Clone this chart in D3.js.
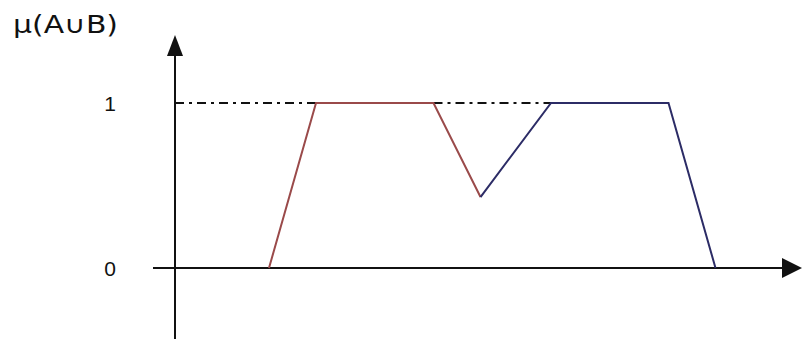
<!DOCTYPE html>
<html>
<head>
<meta charset="utf-8">
<script src="https://cdn.jsdelivr.net/npm/d3@7"></script>
<style>
  body { margin: 0; background: #fff; }
  svg { display: block; }
</style>
</head>
<body>
<div id="chart"></div>
<script>
  const width = 802
  const height = 339

  // membership function pieces
  const setA = [[2, 0], [3, 1], [5.5, 1], [6.5, 0.43]]
  const setB = [[6.5, 0.43], [8, 1], [10.5, 1], [11.5, 0]]
  const guideLines = [[[0, 1], [3, 1]], [[5.5, 1], [8, 1]]]
  const yTicks = [0, 1]
  const yLabel = 'μ(A∪B)'

  const x = d3.scaleLinear().domain([0, 10]).range([175, 645])
  const y = d3.scaleLinear().domain([0, 1]).range([268, 103])

  const svg = d3.select('#chart')
    .append('svg')
    .attr('width', width)
    .attr('height', height)

  svg.append('rect').attr('width', width).attr('height', height).attr('fill', '#fff')

  const axisColor = '#111'

  // y axis with arrow
  svg.append('line')
    .attr('x1', x(0)).attr('x2', x(0))
    .attr('y1', 50).attr('y2', height)
    .attr('stroke', axisColor).attr('stroke-width', 2)
  svg.append('path')
    .attr('d', 'M' + x(0) + ',35 L' + (x(0) - 8) + ',56 L' + (x(0) + 8) + ',56 Z')
    .attr('fill', axisColor)

  // x axis with arrow
  svg.append('line')
    .attr('x1', 153).attr('x2', 790)
    .attr('y1', y(0)).attr('y2', y(0))
    .attr('stroke', axisColor).attr('stroke-width', 2)
  svg.append('path')
    .attr('d', 'M802,' + y(0) + ' L782,' + (y(0) - 10) + ' L782,' + (y(0) + 10) + ' Z')
    .attr('fill', axisColor)

  const line = d3.line().x(d => x(d[0])).y(d => y(d[1]))

  svg.selectAll('.guide')
    .data(guideLines)
    .enter().append('path')
    .attr('class', 'guide')
    .attr('d', line)
    .attr('fill', 'none')
    .attr('stroke', '#111')
    .attr('stroke-width', 2)
    .attr('stroke-dasharray', '9,5,3,5')

  svg.append('path')
    .attr('d', line(setA))
    .attr('fill', 'none')
    .attr('stroke', '#9a4a4a')
    .attr('stroke-width', 2)

  svg.append('path')
    .attr('d', line(setB))
    .attr('fill', 'none')
    .attr('stroke', '#2c2c66')
    .attr('stroke-width', 2)

  svg.selectAll('.tick-label')
    .data(yTicks)
    .enter().append('text')
    .attr('class', 'tick-label')
    .attr('x', 110)
    .attr('y', d => y(d) + 8)
    .attr('text-anchor', 'middle')
    .attr('font-family', 'Liberation Sans, Arial, sans-serif')
    .attr('font-size', '21px')
    .attr('fill', '#111')
    .text(d => d)

  svg.append('text')
    .attr('x', 13)
    .attr('y', 33)
    .attr('font-family', 'DejaVu Sans, sans-serif')
    .attr('font-size', '24px')
    .attr('textLength', 105)
    .attr('lengthAdjust', 'spacingAndGlyphs')
    .attr('fill', '#111')
    .text(yLabel)
</script>
</body>
</html>
